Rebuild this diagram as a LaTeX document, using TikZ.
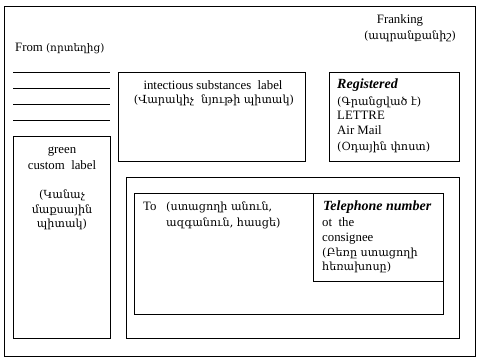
\documentclass[tikz,border=0pt]{standalone}
\usepackage{fontspec}
\setmainfont{Liberation Serif}
\newfontfamily\armfont{DejaVu Serif}
\begin{document}
\begin{tikzpicture}[x=1pt,y=-1pt,
  box/.style={draw=black, line width=0.9pt},
  lat/.style={font=\fontsize{12.8}{14}\selectfont, inner sep=0pt, anchor=base west},
  latc/.style={lat, anchor=base},
  arm/.style={font=\armfont\fontsize{11.2}{13}\selectfont, inner sep=0pt, anchor=base west},
  armc/.style={arm, anchor=base},
  bi/.style={lat, font=\fontsize{14}{15}\selectfont\bfseries\itshape}]
\useasboundingbox (0,0) rectangle (483,361);
% boxes
\draw[box] (4,6) rectangle (475,356);
\draw[box] (118,72) rectangle (305,161);
\draw[box] (329,72) rectangle (459,161);
\draw[box] (13,136) rectangle (110,338);
\draw[box] (126,177) rectangle (459,338);
\draw[box] (134,193) rectangle (443,314);
\draw[box] (313,193) rectangle (443,281);
% sender lines
\foreach \yy in {72,88,104,120} \draw[line width=0.9pt] (13,\yy) -- (110,\yy);
% franking
\node[latc] (frank) at (400,24) {Franking};
\node[armc] (frankarm) at (410,40) {(ապրանքանիշ)};
% from
\node[lat] (from) at (15,52) {From \armfont\fontsize{10.5}{13}\selectfont(որտեղից)};
% infectious
\node[latc] (inf) at (213,90) {intectious substances\ \ label};
\node[armc] (infarm) at (214,104) {(Վարակիչ\ \ նյութի պիտակ)};
% registered
\node[bi] (reg) at (337,89) {Registered};
\node[arm] (regarm) at (337,106) {(Գրանցված է)};
\node[lat] (lettre) at (337,120) {LETTRE};
\node[lat] (air) at (337,135) {Air Mail};
\node[arm] (airarm) at (337,150) {(Օդային փոստ)};
% green
\node[latc] (green) at (62,154) {green};
\node[latc] (custom) at (62,170) {custom\ \ label};
\node[armc] (g1) at (62,199) {(Կանաչ};
\node[armc] (g2) at (62,214) {մաքսային};
\node[armc] (g3) at (62,228) {պիտակ)};
% to
\node[lat] (to) at (143,211) {To};
\node[arm] (to1) at (166,211) {(ստացողի անուն,};
\node[arm] (to2) at (166,226) {ազգանուն, հասցե)};
% telephone
\node[bi] (tel) at (323,211) {Telephone number};
\node[lat] (ofthe) at (322,226) {ot\ \ the};
\node[lat] (cons) at (322,241) {consignee};
\node[arm] (t1) at (322,256) {(Բեռը ստացողի};
\node[arm] (t2) at (322,271) {հեռախոսը)};
\end{tikzpicture}
\end{document}
